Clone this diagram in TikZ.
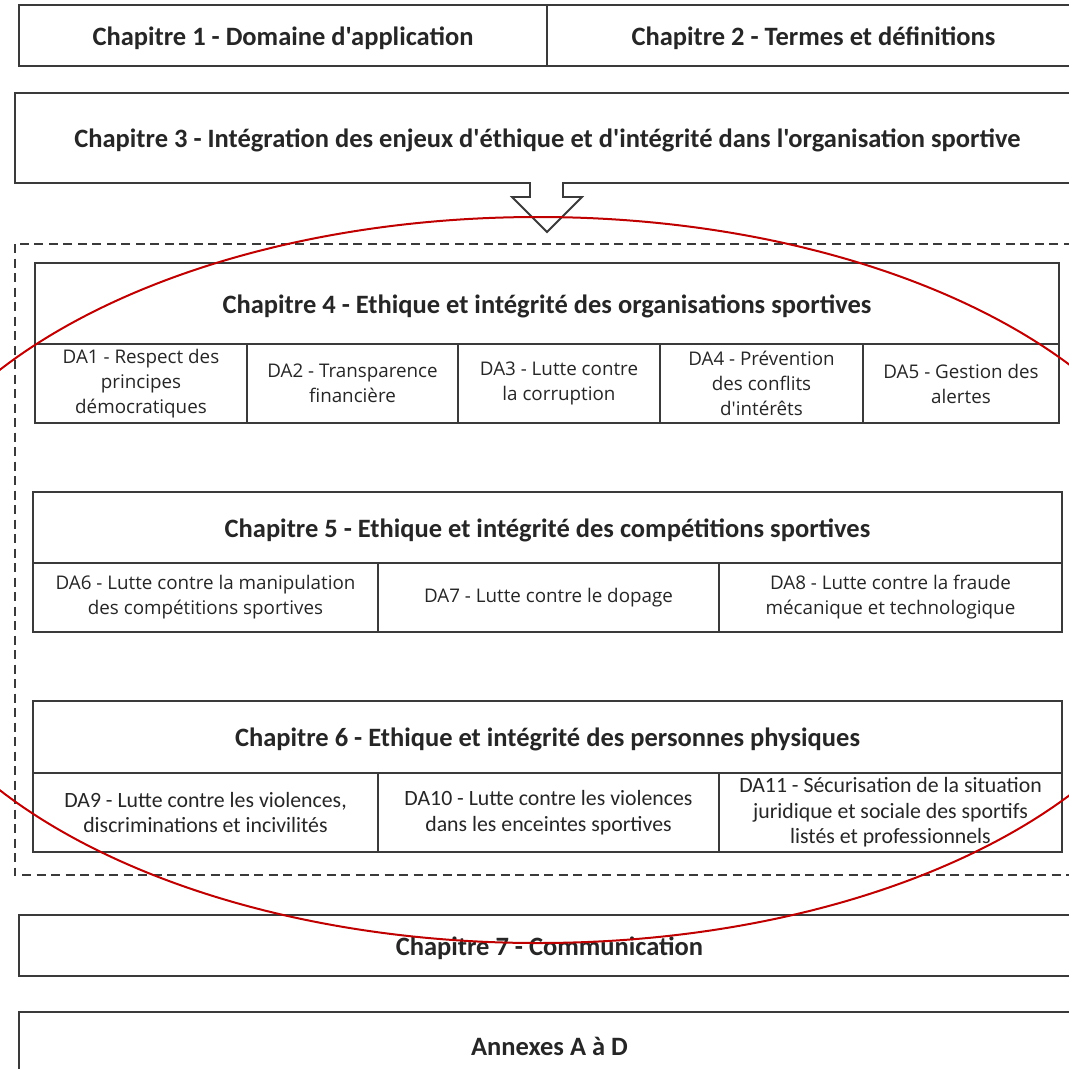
\documentclass[tikz,border=0pt]{standalone}
\usepackage{fontspec}
\setmainfont{Carlito}
\newfontfamily\daf{Open Sans}
\newfontfamily\tif{Carlito}
\definecolor{lineg}{HTML}{3A3A3A}
\definecolor{txtg}{HTML}{262626}
\definecolor{ellred}{HTML}{C00000}
\begin{document}
\begin{tikzpicture}[x=1pt,y=-1pt,
  box/.style={draw=lineg,line width=1.8pt,fill=white,inner sep=0pt,outer sep=0pt,text=txtg,align=center},
  titlebox/.style={box,font=\tif\bfseries\fontsize{26.5}{30}\selectfont,text height=24pt,text depth=5pt},
  dacell/.style={box,font=\daf\fontsize{18.8}{25}\selectfont},
  dacellc/.style={box,font=\tif\fontsize{21.8}{25.5}\selectfont},
  dashbox/.style={draw=lineg,line width=1.8pt,dash pattern=on 9pt off 5.5pt},
  blockarrow/.style={draw=lineg,line width=1.8pt,line join=miter},
  focus/.style={draw=ellred,line width=2pt}]
\useasboundingbox (0,0) rectangle (1069,1069);
\clip (0,0) rectangle (1069,1069);
\fill[white] (0,0) rectangle (1069,1069);

% top chapters
\node[titlebox,minimum width=528pt,minimum height=61pt] (ch1) at (283,35.5) {Chapitre 1 - Domaine d'application};
\node[titlebox,minimum width=533pt,minimum height=61pt] (ch2) at (813.5,35.5) {Chapitre 2 - Termes et définitions};
\node[titlebox,minimum width=1065pt,minimum height=90pt] (ch3) at (547.5,138) {Chapitre 3 - Intégration des enjeux d'éthique et d'intégrité dans l'organisation sportive};

% block arrow (open at the top, joined to chapter 3)
\coordinate (tip) at (547,232);
\fill[white] (530,181) -- (530,197) -- (512,197) -- (tip) -- (582,197) -- (563,197) -- (563,181) -- cycle;
\draw[blockarrow] (530,182) -- (530,197) -- (512,197) -- (tip) -- (582,197) -- (563,197) -- (563,182);

% dashed frame
\draw[dashbox] (15,244) rectangle (1080,875);

% chapter 4
\node[titlebox,minimum width=1024pt,minimum height=81pt] (ch4) at (547,303.5) {Chapitre 4 - Ethique et intégrité des organisations sportives};
\node[dacell,minimum width=212pt,minimum height=79pt] (da1) at (141,383.5) {DA1 - Respect des\\principes\\démocratiques};
\node[dacell,minimum width=211pt,minimum height=79pt] (da2) at (352.5,383.5) {DA2 - Transparence\\financière};
\node[dacell,minimum width=202pt,minimum height=79pt] (da3) at (559,383.5) {DA3 - Lutte contre\\la corruption};
\node[dacell,minimum width=203pt,minimum height=79pt] (da4) at (761.5,383.5) {DA4 - Prévention\\des conflits\\d'intérêts};
\node[dacell,minimum width=196pt,minimum height=79pt] (da5) at (961,383.5) {DA5 - Gestion des\\alertes};

% chapter 5
\node[titlebox,minimum width=1029pt,minimum height=71pt] (ch5) at (547.5,527.5) {Chapitre 5 - Ethique et intégrité des compétitions sportives};
\node[dacell,minimum width=345pt,minimum height=69pt] (da6) at (205.5,597.5) {DA6 - Lutte contre la manipulation\\des compétitions sportives};
\node[dacell,minimum width=341pt,minimum height=69pt] (da7) at (548.5,597.5) {DA7 - Lutte contre le dopage};
\node[dacell,minimum width=343pt,minimum height=69pt] (da8) at (890.5,597.5) {DA8 - Lutte contre la fraude\\mécanique et technologique};

% chapter 6
\node[titlebox,minimum width=1029pt,minimum height=72pt] (ch6) at (547.5,737) {Chapitre 6 - Ethique et intégrité des personnes physiques};
\node[dacellc,minimum width=345pt,minimum height=79pt] (da9) at (205.5,812.5) {DA9 - Lutte contre les violences,\\discriminations et incivilités};
\node[dacellc,minimum width=341pt,minimum height=79pt] (da10) at (548.5,812.5) {DA10 - Lutte contre les violences\\dans les enceintes sportives};
\node[dacellc,minimum width=343pt,minimum height=79pt] (da11) at (890.5,812.5) {DA11 - Sécurisation de la situation\\juridique et sociale des sportifs\\listés et professionnels};

% chapter 7 and annexes
\node[titlebox,minimum width=1061pt,minimum height=61pt] (ch7) at (549.5,945.5) {Chapitre 7 - Communication};
\node[titlebox,minimum width=1061pt,minimum height=68pt] (ann) at (549.5,1046) {Annexes A à D};

% red focus ellipse
\draw[focus] (538,580) ellipse [x radius=660pt, y radius=363pt];
\end{tikzpicture}
\end{document}
